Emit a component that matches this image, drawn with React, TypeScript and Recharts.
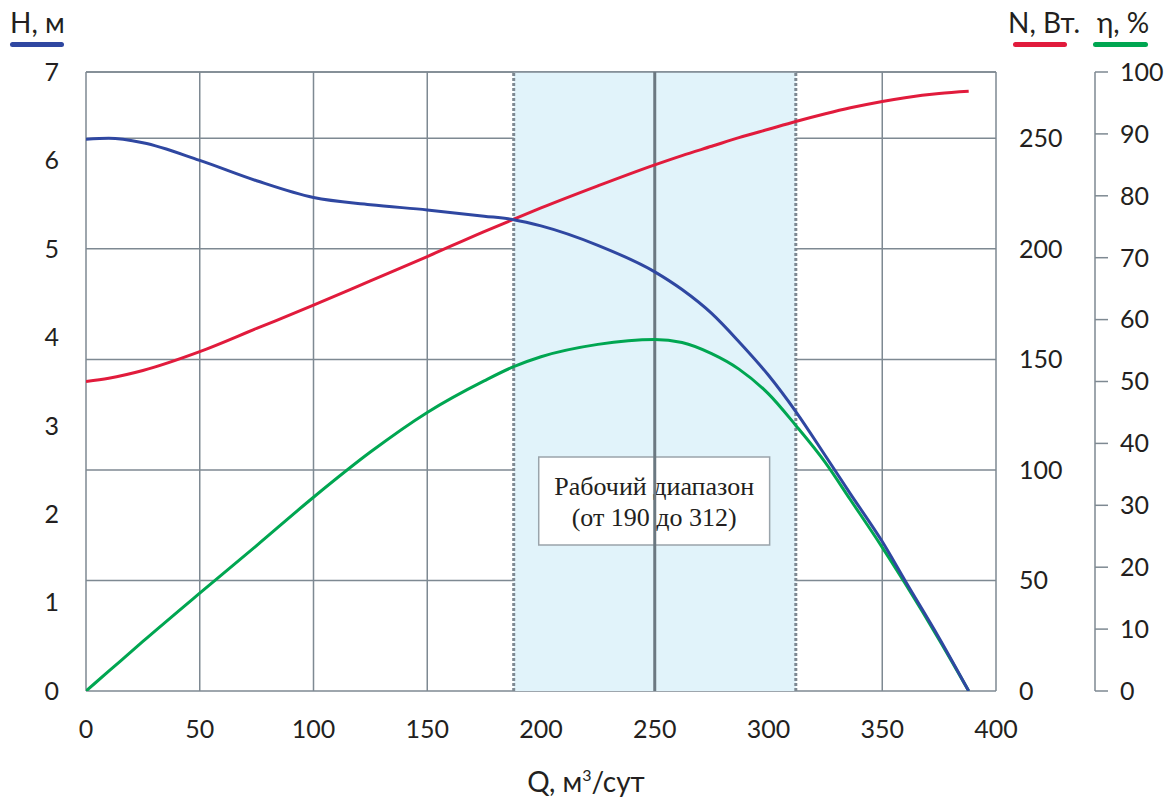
import React from "react";
import {
  LineChart,
  Line,
  XAxis,
  YAxis,
  CartesianGrid,
  ReferenceArea,
  ReferenceLine,
} from "recharts";

// ---- data ----
const Q = [0, 10, 25, 50, 75, 100, 125, 150, 175, 188, 200, 225, 250, 262, 275, 287, 300, 312, 325, 336, 350, 360, 375, 388];
const H_VALUES = [6.24, 6.25, 6.2, 6.0, 5.77, 5.58, 5.5, 5.44, 5.37, 5.33, 5.26, 5.04, 4.74, 4.54, 4.27, 3.95, 3.57, 3.16, 2.66, 2.23, 1.69, 1.25, 0.6, 0];
const N_VALUES = [140, 141.5, 145, 153.5, 164, 174.5, 185.5, 196.5, 207.8, 213.4, 218.5, 228.5, 238, 242.2, 246.4, 250.3, 254.1, 257.6, 261.1, 263.8, 266.7, 268.4, 270.3, 271.3];
const ETA_VALUES = [0, 3.2, 8.0, 15.8, 23.5, 31.3, 38.6, 45.0, 50.1, 52.4, 54.0, 56.0, 56.8, 56.3, 54.5, 52.0, 48.0, 42.9, 36.9, 30.9, 23.2, 17.4, 8.3, 0];

const X_TICKS = [0, 50, 100, 150, 200, 250, 300, 350, 400];
const H_TICKS = [0, 1, 2, 3, 4, 5, 6, 7];
const N_TICKS = [0, 50, 100, 150, 200, 250];
const ETA_TICKS = [0, 10, 20, 30, 40, 50, 60, 70, 80, 90, 100];

const RANGE_START = 188;
const RANGE_END = 312;
const RANGE_MID = 250;
const RANGE_LABEL_1 = "Рабочий диапазон";
const RANGE_LABEL_2 = "(от 190 до 312)";

const hData = Q.map((q, i) => ({ q, v: H_VALUES[i] }));
const nData = Q.map((q, i) => ({ q, v: N_VALUES[i] }));
const etaData = Q.map((q, i) => ({ q, v: ETA_VALUES[i] }));

const BLUE = "#2f47a1";
const RED = "#e11b3c";
const GREEN = "#00a651";
const GRID = "#7e8992";
const TEXT = "#231f20";
const FONT = "Lato, 'DejaVu Sans', sans-serif";

const tickStyle = { fontSize: 25, fill: TEXT, fontFamily: FONT };

const BoxLabel = (props: any) => {
  const vb = props.viewBox || {};
  const cx = vb.x + vb.width / 2;
  const cy = vb.y + vb.height / 2;
  return (
    <g>
      <text
        x={cx}
        y={cy - 6}
        textAnchor="middle"
        fontFamily="'Liberation Serif', serif"
        fontSize={26}
        fill={TEXT}
      >
        {RANGE_LABEL_1}
      </text>
      <text
        x={cx}
        y={cy + 25}
        textAnchor="middle"
        fontFamily="'Liberation Serif', serif"
        fontSize={26}
        fill={TEXT}
      >
        {RANGE_LABEL_2}
      </text>
    </g>
  );
};

export default function App() {
  return (
    <div style={{ position: "absolute", left: 0, top: 0, width: 1171, height: 800, background: "#fff" }}>
      <LineChart width={1171} height={800} margin={{ top: 72, right: 0, bottom: 0, left: 0 }}>
        <ReferenceArea
          x1={RANGE_START}
          x2={RANGE_END}
          yAxisId="N"
          y1={0}
          y2={280}
          fill="#e1f3fa"
          fillOpacity={1}
          stroke="none"
        />
        <CartesianGrid yAxisId="N" stroke={GRID} strokeWidth={1.5} />
        <XAxis
          dataKey="q"
          type="number"
          domain={[0, 400]}
          ticks={X_TICKS}
          axisLine={false}
          tickLine={false}
          tickSize={0}
          tickMargin={29}
          height={109}
          tick={tickStyle}
          allowDataOverflow
        />
        <YAxis
          yAxisId="H"
          orientation="left"
          domain={[0, 7]}
          ticks={H_TICKS}
          width={86}
          axisLine={false}
          tickLine={false}
          tickSize={0}
          tickMargin={27}
          tick={tickStyle}
          allowDataOverflow
        />
        <YAxis
          yAxisId="N"
          orientation="right"
          domain={[0, 280]}
          ticks={N_TICKS}
          width={99}
          axisLine={false}
          tickLine={false}
          tickSize={0}
          tickMargin={23}
          tick={tickStyle}
          allowDataOverflow
        />
        <YAxis
          yAxisId="eta"
          orientation="right"
          domain={[0, 100]}
          ticks={ETA_TICKS}
          width={76}
          axisLine={{ stroke: GRID, strokeWidth: 1.5 }}
          tickLine={{ stroke: GRID, strokeWidth: 1.5 }}
          tickSize={13}
          tickMargin={12}
          tick={tickStyle}
          allowDataOverflow
        />
        <ReferenceLine yAxisId="N" y={280} stroke={GRID} strokeWidth={1.5} />
        <ReferenceLine yAxisId="N" x={RANGE_START} stroke={GRID} strokeWidth={3} strokeDasharray="3 2" />
        <ReferenceLine yAxisId="N" x={RANGE_END} stroke={GRID} strokeWidth={3} strokeDasharray="3 2" />
        <ReferenceLine yAxisId="N" x={RANGE_MID} stroke="#6b7881" strokeWidth={3} />
        <ReferenceArea
          x1={199}
          x2={300.5}
          yAxisId="H"
          y1={1.651}
          y2={2.646}
          fill="#ffffff"
          fillOpacity={1}
          stroke="#9aa4ab"
          strokeWidth={1.5}
          label={BoxLabel}
        />
        <Line
          data={nData}
          dataKey="v"
          yAxisId="N"
          type="monotone"
          stroke={RED}
          strokeWidth={3}
          dot={false}
          activeDot={false}
          isAnimationActive={false}
        />
        <Line
          data={etaData}
          dataKey="v"
          yAxisId="eta"
          type="monotone"
          stroke={GREEN}
          strokeWidth={3}
          dot={false}
          activeDot={false}
          isAnimationActive={false}
        />
        <Line
          data={hData}
          dataKey="v"
          yAxisId="H"
          type="monotone"
          stroke={BLUE}
          strokeWidth={3}
          dot={false}
          activeDot={false}
          isAnimationActive={false}
        />
      </LineChart>
      <svg
        width={1171}
        height={800}
        style={{ position: "absolute", left: 0, top: 0, pointerEvents: "none" }}
      >
        <text x={10} y={33} fontFamily={FONT} fontSize={28} fill={TEXT}>H, м</text>
        <rect x={10} y={42} width={54} height={5} rx={2.5} fill={BLUE} />
        <text x={1008} y={33} fontFamily={FONT} fontSize={28} fill={TEXT}>N, Вт.</text>
        <rect x={1013} y={42} width={54} height={5} rx={2.5} fill={RED} />
        <text x={1097} y={33} fontFamily={FONT} fontSize={28} fill={TEXT}>η, %</text>
        <rect x={1093} y={42} width={55} height={5} rx={2.5} fill={GREEN} />
        <text x={586} y={792} textAnchor="middle" fontFamily={FONT} fontSize={28} fill={TEXT}>
          Q, м<tspan dy={-11} fontSize={16}>3</tspan>
          <tspan dy={11}>/сут</tspan>
        </text>
      </svg>
    </div>
  );
}
